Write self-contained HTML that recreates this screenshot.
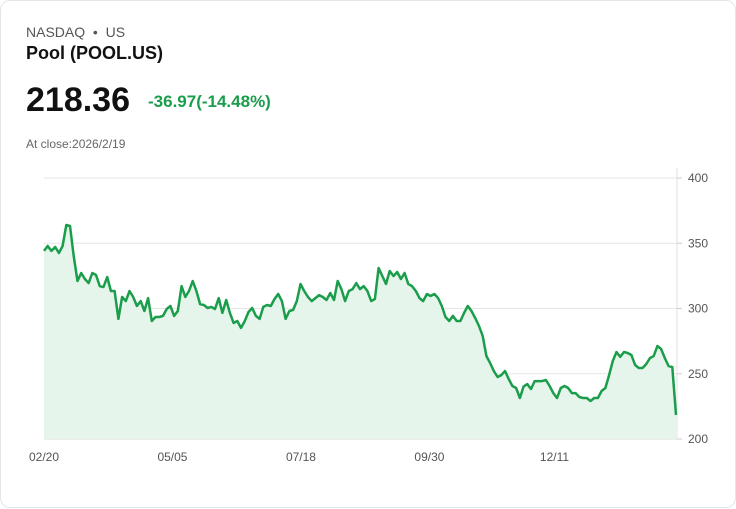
<!DOCTYPE html>
<html><head><meta charset="utf-8"><style>
body{margin:0;background:#fff;font-family:"Liberation Sans",sans-serif;}
.card{position:absolute;left:0;top:0;width:734px;height:506px;border:1px solid #e3e6ea;border-radius:10px;background:#fff;}
.t{position:absolute;white-space:nowrap;}
</style></head><body>
<div class="card">
<div class="t" style="left:25px;top:23px;font-size:14px;color:#555">NASDAQ &nbsp;•&nbsp; US</div>
<div class="t" style="left:25px;top:42px;font-size:18px;font-weight:bold;color:#111">Pool (POOL.US)</div>
<div class="t" style="left:25px;top:80px;font-size:34px;font-weight:bold;color:#111">218.36</div>
<div class="t" style="left:147px;top:91px;font-size:17px;font-weight:bold;color:#1a9e4b">-36.97(-14.48%)</div>
<div class="t" style="left:25px;top:136px;font-size:12px;color:#666">At close:2026/2/19</div>
<svg id="chart" width="736" height="508" style="position:absolute;left:0;top:0"></svg>
</div>
<script>
const values=[344.1,347.9,344.1,347.1,342.5,347.9,364,363.2,340.2,321.1,327.2,322.6,319.5,327.2,325.7,317.2,316.5,324.1,313.4,313.4,292,308.8,305.7,313.4,308.8,301.9,305.7,298.1,308,290.4,293.5,293.5,294.3,299.6,301.9,294.3,298.1,317.2,308.8,313.4,321.1,313.4,303.4,302.7,300.4,301.2,299.6,308,296.6,306.5,296.6,288.9,290.4,285.1,290.4,297.3,300.4,294.3,292,301.2,302.7,301.9,307.3,311.1,305.7,292,298.1,298.9,305.7,318.8,313.4,308.8,305.7,308,310.3,308.8,306.5,311.9,306.5,321.1,314.9,305.7,313.4,314.9,319.5,314.9,317.2,313.4,305.7,307.3,331,324.9,318.8,328.7,324.9,328,322.6,327.2,318.8,317.2,313.4,308,305.7,311.1,309.6,311.1,308,301.9,293.5,290.4,294.3,290.4,290.4,296.6,301.9,298.1,292.7,286.6,278.9,263.6,258.2,252.1,247.5,249,252.1,246,240.6,239.1,231.4,240.2,242.1,238.3,244.4,244.4,244.4,245.2,240.6,235.2,231.4,239.1,240.6,239.1,235.2,235.2,232.2,231.4,231.4,229.1,231.4,231.4,236.8,239.1,249,259.8,266.7,262.9,266.7,265.9,264.4,256.7,254.4,254.4,257.5,262.1,263.6,271.3,269,262.1,255.9,255.1,218.4];
const yTicks=[200,250,300,350,400];
const xLabels=["02/20","05/05","07/18","09/30","12/11"];
const xLabelDays=[0,74,148,222,294];
const totalDays=364;
const svg=document.getElementById('chart');const NS='http://www.w3.org/2000/svg';
const X0=43,X1=675,Y0=438,Y1=177;
const xd=d=>X0+d/totalDays*(X1-X0);
const xi=i=>xd(i/(values.length-1)*totalDays);
const y=v=>Y0-(v-200)/200*(Y0-Y1);
function mk(t,a){const e=document.createElementNS(NS,t);for(const k in a)e.setAttribute(k,a[k]);svg.appendChild(e);return e;}
yTicks.forEach(v=>{
const g=mk('line',{x1:X0,x2:676,y1:y(v),y2:y(v),stroke:v==200?'#d8d8d8':'#e6e6e6','stroke-width':1});


const tk=mk('line',{x1:676,x2:681,y1:y(v),y2:y(v),stroke:'#ccc'});


const t=mk('text',{x:687,y:y(v)+4,'font-size':12,fill:'#555','font-family':'Liberation Sans,sans-serif'});t.textContent=v;


});
const ax=mk('line',{x1:676,x2:676,y1:Y1-10,y2:Y0,stroke:'#e0e0e0'});


xLabels.forEach((l,i)=>{
const t=mk('text',{x:xd(xLabelDays[i]),y:460,'font-size':12,fill:'#555','text-anchor':'middle','font-family':'Liberation Sans,sans-serif'});t.textContent=l;


});
let d=values.map((v,i)=>(i?'L':'M')+xi(i).toFixed(1)+' '+y(v).toFixed(1)).join(' ');
const area=mk('path',{d:d+` L${xi(values.length-1)} ${Y0} L${X0} ${Y0} Z`,fill:'#e6f5eb'});


const line=mk('path',{d:d,fill:'none',stroke:'#1a9e4b','stroke-width':2.5,'stroke-linejoin':'round'});


</script>
</body></html>
